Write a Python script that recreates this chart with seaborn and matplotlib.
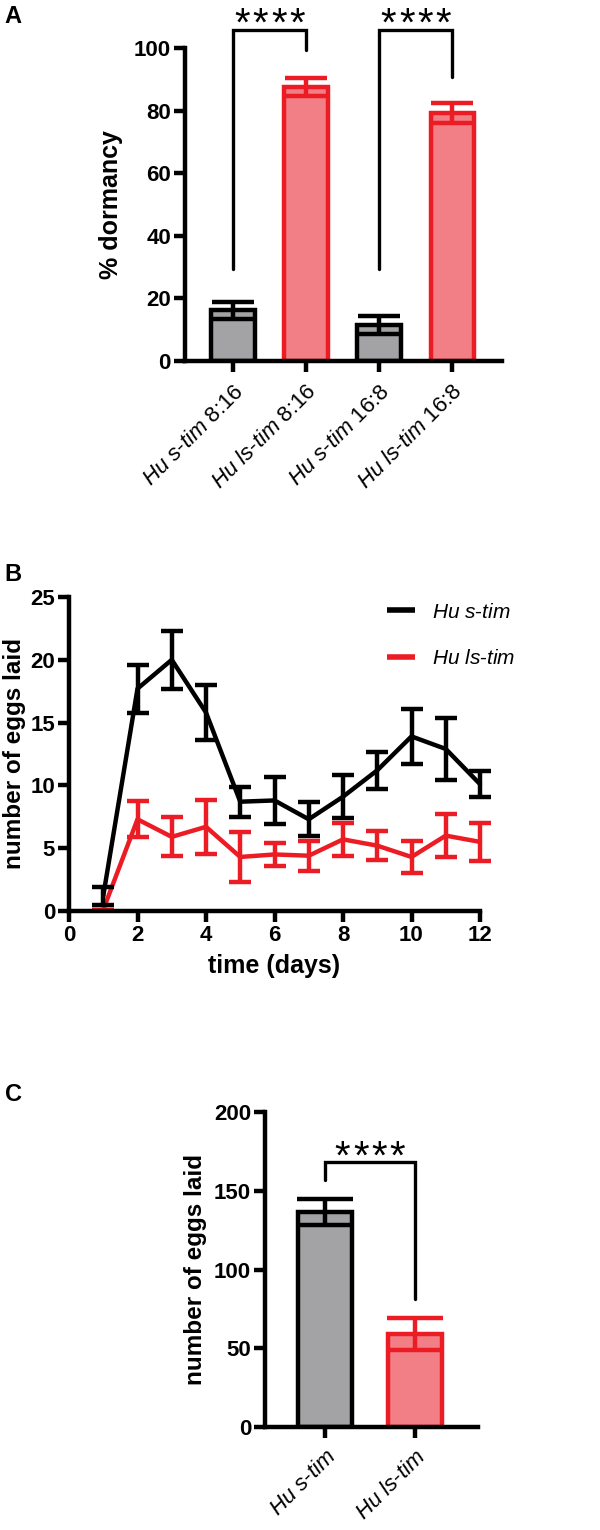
import numpy as np
import pandas as pd
import matplotlib
matplotlib.use("Agg")
import matplotlib.pyplot as plt
import seaborn as sns

sns.set_style("ticks")
plt.rcParams['font.family'] = ['Liberation Sans', 'DejaVu Sans']
plt.rcParams['mathtext.fontset'] = 'custom'
plt.rcParams['mathtext.rm'] = 'Liberation Sans'
plt.rcParams['mathtext.it'] = 'Liberation Sans:italic'
plt.rcParams['mathtext.bf'] = 'Liberation Sans:bold'
for k in ['text.color', 'axes.labelcolor', 'xtick.color', 'ytick.color', 'axes.edgecolor']:
    plt.rcParams[k] = 'black'

# ---- data ----
# panel A: % dormancy
dorm_groups = ['Hu s-tim 8:16', 'Hu ls-tim 8:16', 'Hu s-tim 16:8', 'Hu ls-tim 16:8']
dorm_labels = [r'$\mathit{Hu\ s}$-$\mathit{tim}$ 8:16', r'$\mathit{Hu\ ls}$-$\mathit{tim}$ 8:16',
               r'$\mathit{Hu\ s}$-$\mathit{tim}$ 16:8', r'$\mathit{Hu\ ls}$-$\mathit{tim}$ 16:8']
dorm_mean = [16.2, 87.5, 11.5, 79.2]
dorm_sem = [2.6, 2.8, 2.9, 3.2]

# panel B: eggs per day
days = [1, 2, 3, 4, 5, 6, 7, 8, 9, 10, 11, 12]
s_tim_eggs = [1.2, 17.7, 20.0, 15.8, 8.7, 8.8, 7.3, 9.1, 11.2, 13.9, 12.9, 10.1]
s_tim_sem = [0.7, 1.9, 2.3, 2.2, 1.2, 1.9, 1.35, 1.7, 1.45, 2.2, 2.5, 1.05]
ls_tim_eggs = [0.1, 7.3, 5.9, 6.7, 4.3, 4.5, 4.4, 5.7, 5.2, 4.3, 6.0, 5.5]
ls_tim_sem = [0.0, 1.45, 1.55, 2.15, 2.0, 0.9, 1.2, 1.3, 1.15, 1.25, 1.7, 1.5]

# panel C: total eggs
total_groups = ['Hu s-tim', 'Hu ls-tim']
total_labels = [r'$\mathit{Hu\ s}$-$\mathit{tim}$', r'$\mathit{Hu\ ls}$-$\mathit{tim}$']
total_mean = [136.5, 59.0]
total_sem = [8.0, 10.0]

gray = '#a3a3a5'
red_edge = '#ec1c24'
red_fill = '#f27f85'

fig = plt.figure(figsize=(6, 15.3), dpi=100)


def style_axis(ax):
    sns.despine(ax=ax)
    for s in ['left', 'bottom']:
        ax.spines[s].set_linewidth(3.2)
    ax.tick_params(axis='both', width=3.2, length=8, labelsize=16, pad=2)
    for t in ax.get_yticklabels():
        t.set_fontweight('bold')


def bars(ax, groups, means, sems, capsize):
    df = pd.DataFrame({'group': groups, 'value': means})
    pal = [gray if 'ls-tim' not in g else red_fill for g in groups]
    sns.barplot(data=df, x='group', y='value', hue='group', palette=pal,
                errorbar=None, width=0.6, legend=False, ax=ax, saturation=1)
    for i, p in enumerate(ax.patches):
        ec = 'black' if 'ls-tim' not in groups[i] else red_edge
        p.set_edgecolor(ec)
        p.set_linewidth(3.2)
        ax.errorbar(i, means[i], yerr=sems[i], color=ec, elinewidth=3.2,
                    capsize=capsize, capthick=3.2, zorder=5)


def bracket(ax, x1, x2, y_top, y1, y2, ystar):
    ax.plot([x1, x1, x2, x2], [y1, y_top, y_top, y2], color='black', lw=2.4,
            clip_on=False, solid_joinstyle='miter')
    # four stars spread out like the prism style
    for k in range(4):
        ax.annotate('*', xy=((x1 + x2) / 2, ystar), xytext=((k - 1.5) * 13.2, 0),
                    textcoords='offset points', ha='center', va='baseline',
                    fontsize=29, annotation_clip=False)


# ---- panel A ----
axA = fig.add_axes([0.308, 0.764, 0.529, 0.2046])
bars(axA, dorm_groups, dorm_mean, dorm_sem, 15)
axA.set_ylim(0, 100)
axA.set_xlim(-0.66, 3.68)
axA.set_yticks([0, 20, 40, 60, 80, 100])
style_axis(axA)
axA.set_xticks(range(4))
axA.set_xticklabels(dorm_labels, rotation=45, ha='right', rotation_mode='anchor', fontsize=16)
axA.tick_params(axis='x', pad=6)
axA.set_xlabel('')
axA.set_ylabel('% dormancy', fontsize=18, fontweight='bold', labelpad=8)
bracket(axA, 0, 1, 105.8, 29.4, 99.4, 104.0)
bracket(axA, 2, 3, 105.8, 29.4, 90.7, 104.0)
fig.text(0.008, 0.997, 'A', fontsize=17, fontweight='bold', va='top')

# ---- panel B ----
axB = fig.add_axes([0.115, 0.4046, 0.685, 0.2052])
dfB = pd.DataFrame({'day': days * 2,
                    'eggs': s_tim_eggs + ls_tim_eggs,
                    'line': [r'$\mathit{Hu\ s}$-$\mathit{tim}$'] * 12 + [r'$\mathit{Hu\ ls}$-$\mathit{tim}$'] * 12})
sns.lineplot(data=dfB, x='day', y='eggs', hue='line', palette=['black', red_edge],
             errorbar=None, lw=3.2, ax=axB, clip_on=False)
axB.errorbar(days, s_tim_eggs, yerr=s_tim_sem, fmt='none', ecolor='black',
             elinewidth=3.2, capsize=8, capthick=3.2, clip_on=False)
axB.errorbar(days, ls_tim_eggs, yerr=ls_tim_sem, fmt='none', ecolor=red_edge,
             elinewidth=3.2, capsize=8, capthick=3.2, clip_on=False)
axB.set_xlim(0, 12)
axB.set_ylim(0, 25)
axB.set_xticks(range(0, 13, 2))
axB.set_yticks(range(0, 26, 5))
style_axis(axB)
for t in axB.get_xticklabels():
    t.set_fontweight('bold')
axB.set_xlabel('time (days)', fontsize=18, fontweight='bold', labelpad=6)
axB.set_ylabel('number of eggs laid', fontsize=17.5, fontweight='bold', labelpad=3)
leg = axB.legend(loc='upper left', bbox_to_anchor=(0.748, 1.015), frameon=False,
                 fontsize=15, handlelength=1.35, handletextpad=0.8, labelspacing=1.33,
                 borderpad=0)
for h in leg.get_lines():
    h.set_linewidth(4)
    h.set_solid_capstyle('butt')
fig.text(0.008, 0.632, 'B', fontsize=17, fontweight='bold', va='top')

# ---- panel C ----
axC = fig.add_axes([0.4417, 0.0673, 0.355, 0.2059])
bars(axC, total_groups, total_mean, total_sem, 20)
axC.set_ylim(0, 200)
axC.set_xlim(-0.667, 1.7)
axC.set_yticks([0, 50, 100, 150, 200])
style_axis(axC)
axC.set_xticks(range(2))
axC.set_xticklabels(total_labels, rotation=45, ha='right', rotation_mode='anchor', fontsize=16)
axC.tick_params(axis='x', pad=6)
axC.set_xlabel('')
axC.set_ylabel('number of eggs laid', fontsize=17.5, fontweight='bold', labelpad=5)
bracket(axC, 0, 1, 168, 157, 81, 164)
fig.text(0.008, 0.292, 'C', fontsize=17, fontweight='bold', va='top')

fig.savefig('out.png', dpi=100)
